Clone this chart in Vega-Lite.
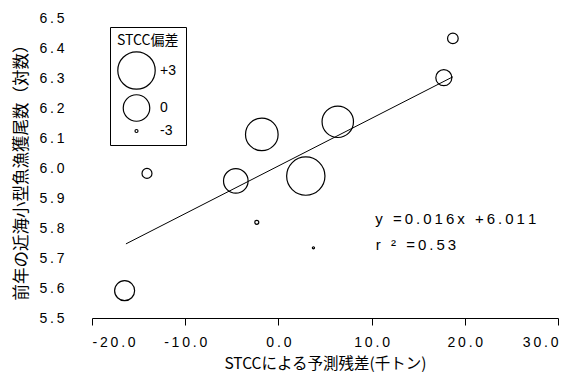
{
  "$schema": "https://vega.github.io/schema/vega-lite/v6.json",
  "width": 466,
  "height": 300,
  "autosize": {"type": "none"},
  "padding": {"left": 92, "top": 18, "right": 25, "bottom": 58},
  "background": "white",
  "config": {"view": {"stroke": null}, "font": "Liberation Sans", "axis": {"labelOverlap": false}},
  "layer": [
    {
      "data": {"values": [
        {"residual": -16.5, "catch": 5.591, "dev": -1.31},
        {"residual": -14.1, "catch": 5.982, "dev": -2.61},
        {"residual": -4.57, "catch": 5.957, "dev": -0.43},
        {"residual": -1.78, "catch": 6.112, "dev": 1.55},
        {"residual": -2.32, "catch": 5.819, "dev": -2.97},
        {"residual": 2.94, "catch": 5.973, "dev": 3.3},
        {"residual": 3.76, "catch": 5.734, "dev": -3.02},
        {"residual": 6.37, "catch": 6.154, "dev": 1.22},
        {"residual": 17.75, "catch": 6.301, "dev": -1.93},
        {"residual": 18.72, "catch": 6.432, "dev": -2.55}
      ]},
      "mark": {"type": "point", "shape": "circle", "filled": false, "stroke": "black", "strokeWidth": 1.2, "opacity": 1},
      "encoding": {
        "x": {
          "field": "residual", "type": "quantitative",
          "scale": {"domain": [-20, 30], "nice": false, "zero": false},
          "axis": {
            "title": "STCCによる予測残差(千トン)",
            "values": [-20, -10, 0, 10, 20, 30],
            "labelExpr": "join(split(replace(format(datum.value, '.1f'), '\u2212', '-'), ''), '\u2009')",
            "labelOverlap": false,
            "grid": false,
            "domainColor": "black",
            "tickColor": "black",
            "tickSize": 7,
            "labelPadding": 10,
            "labelFont": "Liberation Sans",
            "labelFontSize": 14,
            "labelColor": "black",
            "titleFont": "Noto Sans CJK JP",
            "titleFontSize": 15.5,
            "titleFontWeight": "normal",
            "titleColor": "black",
            "titlePadding": 7
          }
        },
        "y": {
          "field": "catch", "type": "quantitative",
          "scale": {"domain": [5.5, 6.5], "nice": false, "zero": false},
          "axis": {
            "title": "前年の近海小型魚漁獲尾数（対数）",
            "tickCount": 10,
            "format": ".1f",
            "labelExpr": "join(split(datum.label, ''), '\u2009')",
            "labelOverlap": false,
            "grid": false,
            "domain": false,
            "ticks": false,
            "labelPadding": 28,
            "labelFont": "Liberation Sans",
            "labelFontSize": 14,
            "labelColor": "black",
            "titleFont": "Noto Sans CJK JP",
            "titleFontSize": 16.5,
            "titleFontWeight": "normal",
            "titleColor": "black",
            "titlePadding": 9
          }
        },
        "size": {
          "field": "dev", "type": "quantitative",
          "scale": {"domain": [-3, 3], "range": [9, 1399], "zero": false},
          "legend": {
            "title": "STCC偏差",
            "values": [3, 0, -3],
            "labelExpr": "(datum.value > 0 ? '+' : (datum.value < 0 ? '-' : '')) + abs(datum.value)",
            "orient": "none",
            "legendX": 18,
            "legendY": 9,
            "strokeColor": "black",
            "fillColor": "white",
            "padding": 7,
            "rowPadding": 0,
            "titleFont": "Noto Sans CJK JP",
            "titleFontSize": 14,
            "titleFontWeight": "normal",
            "titleColor": "black",
            "titlePadding": 3,
            "labelFont": "Liberation Sans",
            "labelFontSize": 14,
            "labelColor": "black",
            "symbolStrokeColor": "black",
            "symbolFillColor": "transparent",
            "symbolStrokeWidth": 1.2
          }
        }
      }
    },
    {
      "data": {"values": [
        {"residual": -16.36, "catch": 5.747},
        {"residual": 18.72, "catch": 6.304}
      ]},
      "mark": {"type": "line", "color": "black", "strokeWidth": 1},
      "encoding": {
        "x": {"field": "residual", "type": "quantitative", "scale": {"domain": [-20, 30], "nice": false, "zero": false}},
        "y": {"field": "catch", "type": "quantitative", "scale": {"domain": [5.5, 6.5], "nice": false, "zero": false}}
      }
    },
    {
      "data": {"values": [
        {"residual": 10.4, "catch": 5.83, "label": "y\u2009 \u2009=\u20090\u2009.\u20090\u20091\u20096\u2009x\u2009 \u2009+\u20096\u2009.\u20090\u20091\u20091"},
        {"residual": 10.45, "catch": 5.742, "label": "r\u2009 \u2009²\u2009 \u2009=\u20090\u2009.\u20095\u20093"}
      ]},
      "mark": {"type": "text", "align": "left", "baseline": "middle", "fontSize": 15, "font": "Liberation Sans", "color": "black"},
      "encoding": {
        "x": {"field": "residual", "type": "quantitative", "scale": {"domain": [-20, 30], "nice": false, "zero": false}},
        "y": {"field": "catch", "type": "quantitative", "scale": {"domain": [5.5, 6.5], "nice": false, "zero": false}},
        "text": {"field": "label", "type": "nominal"}
      }
    }
  ]
}
